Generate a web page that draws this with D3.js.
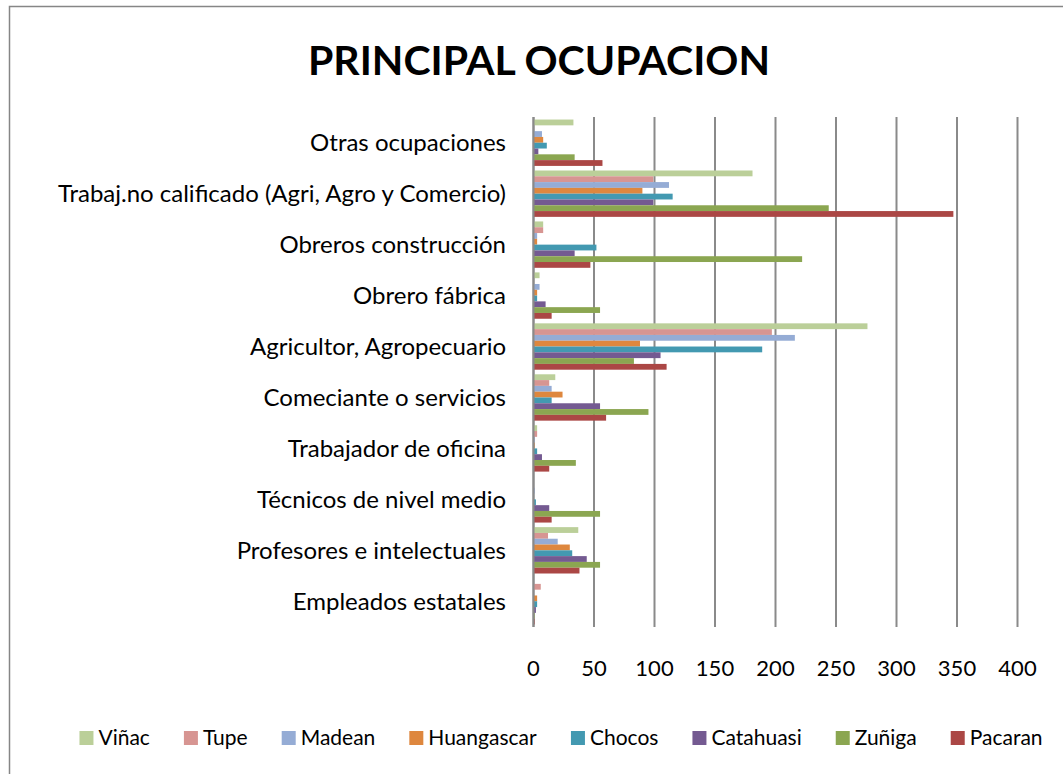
<!DOCTYPE html>
<html>
<head>
<meta charset="utf-8">
<script src="https://cdn.jsdelivr.net/npm/d3@7"></script>
<style>
  body { margin: 0; background: #fff; }
  text { font-family: Lato, "Open Sans", sans-serif; fill: #000; }
</style>
</head>
<body>
<svg id="chart" width="1063" height="774"></svg>
<script>
// categories, top to bottom as drawn
const categories = [
    'Otras ocupaciones',
    'Trabaj.no calificado (Agri, Agro y Comercio)',
    'Obreros construcción',
    'Obrero fábrica',
    'Agricultor, Agropecuario',
    'Comeciante o servicios',
    'Trabajador de oficina',
    'Técnicos de nivel medio',
    'Profesores e intelectuales',
    'Empleados estatales'
]

const seriesNames = ['Viñac', 'Tupe', 'Madean', 'Huangascar', 'Chocos', 'Catahuasi', 'Zuñiga', 'Pacaran']
const seriesColors = ['#bbcf99', '#d79592', '#95acd5', '#de873e', '#4399b1', '#745a91', '#8ba651', '#ab4745']

// one array per series, same order as categories
const vinac      = [33, 181, 8, 5, 276, 18, 3, 0, 37, 0]
const tupe       = [0, 99, 8, 0, 197, 13, 3, 0, 12, 6]
const madean     = [7, 112, 3, 5, 216, 15, 1, 1, 20, 0]
const huangascar = [8, 90, 3, 3, 88, 24, 1, 0, 30, 3]
const chocos     = [11, 115, 52, 3, 189, 15, 3, 2, 32, 3]
const catahuasi  = [4, 99, 34, 10, 105, 55, 7, 13, 44, 2]
const zuniga     = [34, 244, 222, 55, 83, 95, 35, 55, 55, 1]
const pacaran    = [57, 347, 47, 15, 110, 60, 13, 15, 38, 1]

const xTicks = [0, 50, 100, 150, 200, 250, 300, 350, 400]

const seriesValues = [vinac, tupe, madean, huangascar, chocos, catahuasi, zuniga, pacaran]

const svg = d3.select('#chart')

// chart frame
svg.append('rect')
    .attr('x', 9.5).attr('y', 6.5)
    .attr('width', 1070).attr('height', 790)
    .attr('fill', '#fff')
    .attr('stroke', '#868686')
    .attr('stroke-width', 1.5)

// title
svg.append('text')
    .attr('x', 539).attr('y', 75)
    .attr('text-anchor', 'middle')
    .attr('font-size', 41)
    .attr('font-weight', 'bold')
    .text('PRINCIPAL OCUPACION')

const plot = {top: 117, bottom: 627, left: 533.5, right: 1017.5}

const x = d3.scaleLinear()
    .domain([0, 400])
    .range([plot.left, plot.right])

const y = d3.scaleBand()
    .domain(categories)
    .range([plot.top, plot.bottom])
    .paddingInner(0.09)
    .paddingOuter(0.05)

const ySub = d3.scaleBand()
    .domain(seriesNames)
    .range([0, y.bandwidth()])

// gridlines
svg.append('g').selectAll('line')
    .data(xTicks)
    .enter().append('line')
    .attr('x1', d => x(d)).attr('x2', d => x(d))
    .attr('y1', plot.top).attr('y2', plot.bottom)
    .attr('stroke', '#8a8a8a')
    .attr('stroke-width', 2)

// bars
const rows = categories.map((c, i) => ({
    category: c,
    values: seriesNames.map((s, j) => ({series: s, color: seriesColors[j], value: seriesValues[j][i]}))
}))

const group = svg.append('g').selectAll('g.row')
    .data(rows)
    .enter().append('g')
    .attr('class', 'row')
    .attr('transform', d => `translate(0, ${y(d.category)})`)

group.selectAll('rect')
    .data(d => d.values)
    .enter().append('rect')
    .attr('x', x(0))
    .attr('y', d => ySub(d.series))
    .attr('width', d => x(d.value) - x(0))
    .attr('height', ySub.bandwidth())
    .attr('fill', d => d.color)

// axis line at zero on top of bars
svg.append('line')
    .attr('x1', x(0)).attr('x2', x(0))
    .attr('y1', plot.top).attr('y2', plot.bottom)
    .attr('stroke', '#8a8a8a')
    .attr('stroke-width', 2)

// category labels
svg.append('g').selectAll('text')
    .data(categories)
    .enter().append('text')
    .attr('x', 506)
    .attr('y', d => y(d) + y.bandwidth() / 2)
    .attr('dy', '0.35em')
    .attr('text-anchor', 'end')
    .attr('font-size', 24)
    .text(d => d)

// x tick labels
svg.append('g').selectAll('text')
    .data(xTicks)
    .enter().append('text')
    .attr('x', d => x(d))
    .attr('y', 676)
    .attr('text-anchor', 'middle')
    .attr('font-size', 22)
    .text(d => d)

// legend
const legend = svg.append('g')
const items = legend.selectAll('g')
    .data(seriesNames)
    .enter().append('g')

items.append('rect')
    .attr('width', 14).attr('height', 14)
    .attr('y', -7)
    .attr('fill', (d, i) => seriesColors[i])

items.append('text')
    .attr('x', 19)
    .attr('dy', '0.35em')
    .attr('font-size', 21)
    .text(d => d)

let offset = 0
items.each(function() {
    const w = this.getBBox().width
    d3.select(this).attr('transform', `translate(${offset}, 0)`)
    offset += w + 34
})
const legendWidth = offset - 34
legend.attr('transform', `translate(${561 - legendWidth / 2}, 738)`)
</script>
</body>
</html>
